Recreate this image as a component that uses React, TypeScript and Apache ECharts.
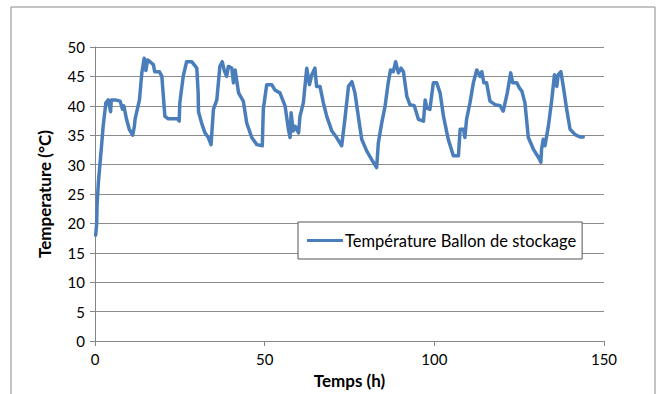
import React, { useEffect, useRef } from "react";
import * as echarts from "echarts";

const hours: number[] = [
  0.2, 0.5, 0.6, 1.0, 2.0, 2.4, 3.2, 3.9, 4.6, 4.8, 6.0, 7.4, 8.1, 8.5, 9.3, 10.1, 11.1, 11.6, 11.8,
  13.1, 13.8, 14.5, 15.0, 15.5, 16.2, 17.2, 17.6, 19.0, 19.7, 20.6, 21.6, 24.3, 24.8, 25.0, 26.0,
  27.0, 28.5, 30.0, 30.4, 30.5, 31.4, 32.4, 33.4, 34.2, 34.9, 35.9, 36.8, 37.5, 38.1, 38.8, 39.3,
  40.3, 40.8, 41.3, 42.3, 43.7, 44.7, 46.2, 47.7, 49.3, 49.6, 50.6, 52.1, 53.0, 54.5, 56.0, 57.0,
  57.5, 57.8, 58.4, 59.0, 60.0, 60.4, 61.4, 62.4, 63.2, 63.9, 64.8, 65.3, 66.3, 67.3, 68.3, 69.8,
  71.2, 72.7, 73.7, 74.7, 75.7, 76.6, 77.6, 78.6, 80.1, 81.5, 83.0, 83.5, 84.5, 85.5, 86.4, 87.1,
  87.9, 88.6, 89.4, 90.2, 90.9, 91.9, 92.8, 94.1, 95.3, 96.8, 97.3, 97.8, 98.7, 99.7, 100.7, 101.7,
  102.7, 104.1, 105.6, 107.1, 107.6, 108.6, 109.0, 109.5, 110.5, 111.5, 112.5, 113.5, 114.0, 114.6,
  115.4, 116.4, 117.9, 119.4, 120.3, 121.5, 122.5, 123.1, 124.3, 125.1, 125.8, 126.7, 127.7, 129.2,
  130.7, 131.4, 131.6, 132.1, 132.6, 133.6, 134.6, 135.4, 136.1, 136.5, 137.3, 138.0, 139.0, 140.0,
  141.5, 142.9, 143.9,
];

const temps: number[] = [
  18.0, 20.0, 23.0, 27.0, 33.7, 36.5, 40.5, 41.0, 39.0, 41.0, 41.0, 40.8, 39.4, 40.0, 37.7, 36.0, 35.0, 36.5, 37.7,
  41.0, 45.6, 48.1, 46.0, 47.8, 47.5, 47.0, 45.8, 45.8, 45.0, 38.2, 37.8, 37.8, 37.4, 40.5, 45.0,
  47.5, 47.5, 46.4, 42.2, 39.0, 37.1, 35.4, 34.6, 33.4, 39.4, 41.0, 46.7, 47.5, 46.0, 45.0, 46.7,
  46.4, 43.9, 46.1, 42.2, 40.8, 37.1, 34.6, 33.4, 33.2, 39.4, 43.6, 43.6, 42.7, 42.2, 40.0, 36.0,
  34.6, 38.8, 35.7, 36.5, 35.4, 38.2, 40.5, 46.4, 43.6, 45.3, 46.4, 43.3, 43.3, 40.5, 38.2, 35.7,
  34.6, 33.2, 38.0, 43.3, 44.1, 42.2, 38.2, 34.3, 32.3, 30.9, 29.5, 33.7, 37.1, 40.0, 43.9, 46.1,
  45.8, 47.5, 45.6, 46.4, 45.8, 41.6, 40.2, 40.0, 37.7, 37.4, 41.0, 39.6, 39.4, 43.9, 43.9, 42.2,
  38.2, 34.3, 31.5, 31.5, 36.0, 36.0, 34.6, 37.7, 40.5, 43.9, 46.1, 45.0, 45.8, 43.9,
  43.9, 40.8, 40.2, 40.0, 39.1, 42.2, 45.6, 43.9, 43.9, 43.0, 42.5, 40.5, 34.6, 32.6,
  31.2, 30.4, 32.6, 34.3, 33.2, 36.5, 41.0, 45.3, 43.3, 45.3, 45.8, 43.3, 39.4, 36.0,
  35.1, 34.7, 34.7,
];

const seriesName = "Température Ballon de stockage";
const xTitle = "Temps (h)";
const yTitle = "Temperature (°C)";

export default function App() {
  const ref = useRef<HTMLDivElement>(null);
  useEffect(() => {
    if (!ref.current) return;
    const chart = echarts.init(ref.current, undefined, { renderer: "svg" });
    const data = hours.map((h, i) => [h, temps[i]]);
    const font = "Lato, 'Open Sans', sans-serif";
    chart.setOption({
      animation: false,
      backgroundColor: "#ffffff",
      textStyle: { fontFamily: font },
      grid: { left: 95, right: 58, top: 47, bottom: 51, containLabel: false },
      graphic: [
        {
          type: "rect",
          shape: { x: 11, y: 7, width: 644, height: 400 },
          style: { fill: "none", stroke: "#8a8a8a", lineWidth: 1 },
          silent: true,
        },
      ],
      legend: {
        left: 298,
        top: 222,
        padding: [10, 6, 10, 9],
        borderColor: "#555555",
        borderWidth: 1,
        backgroundColor: "#ffffff",
        itemWidth: 36,
        itemHeight: 3,
        itemGap: 0,
        icon: "rect",
        textStyle: { fontFamily: font, fontSize: 16.5, color: "#000", padding: [0, 0, 0, -3] },
        data: [seriesName],
      },
      xAxis: {
        type: "value",
        min: 0,
        max: 150,
        interval: 50,
        name: xTitle,
        nameLocation: "middle",
        nameGap: 31,
        nameTextStyle: { fontFamily: font, fontSize: 17, fontWeight: "bold", color: "#000" },
        axisLine: { show: true, lineStyle: { color: "#868686", width: 1 } },
        axisTick: { show: true, inside: false, length: 5, lineStyle: { color: "#868686" } },
        axisLabel: { fontFamily: font, fontSize: 15, color: "#000", margin: 10 },
        splitLine: { show: false },
      },
      yAxis: {
        type: "value",
        min: 0,
        max: 50,
        interval: 5,
        name: yTitle,
        nameLocation: "middle",
        nameGap: 42,
        nameRotate: 90,
        nameTextStyle: { fontFamily: font, fontSize: 17, fontWeight: "bold", color: "#000" },
        axisLine: { show: true, lineStyle: { color: "#868686", width: 1 } },
        axisTick: { show: true, inside: false, length: 5, lineStyle: { color: "#868686" } },
        axisLabel: { fontFamily: font, fontSize: 15, color: "#000", margin: 10 },
        splitLine: { show: true, lineStyle: { color: "#8c8c8c", width: 1 } },
      },
      series: [
        {
          name: seriesName,
          type: "line",
          data,
          showSymbol: false,
          symbol: "none",
          lineStyle: { color: "#4a7ebb", width: 3.5, join: "round", cap: "round" },
          itemStyle: { color: "#4a7ebb" },
        },
      ],
    });
    return () => chart.dispose();
  }, []);
  return (
    <div
      ref={ref}
      style={{ position: "fixed", left: 0, top: 0, width: 662, height: 394 }}
    />
  );
}
